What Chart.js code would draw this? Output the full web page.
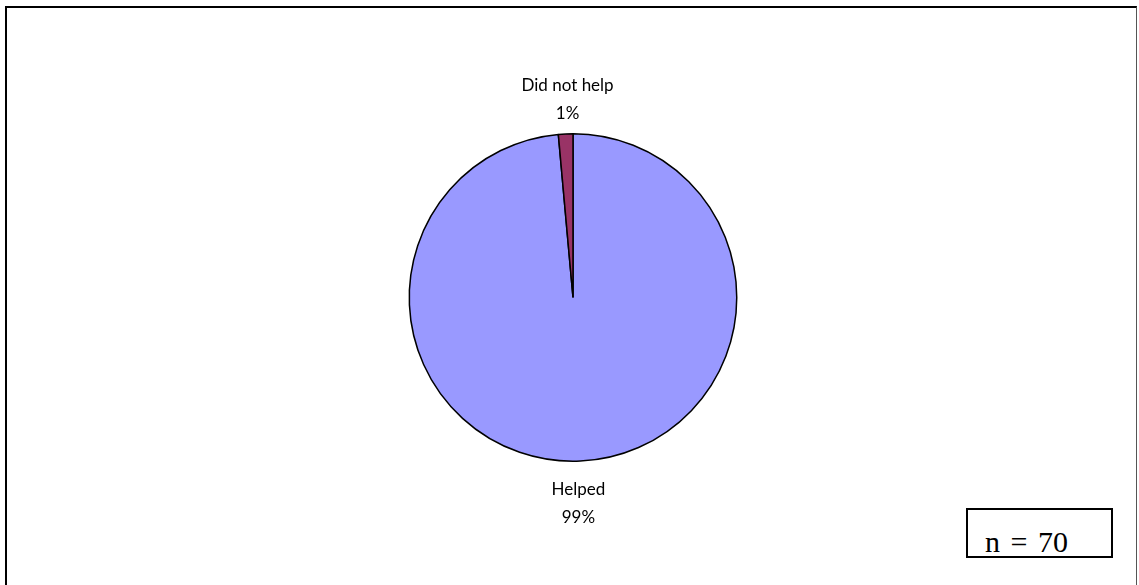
<!DOCTYPE html>
<html>
<head>
<meta charset="utf-8">
<script src="https://cdn.jsdelivr.net/npm/chart.js@4/dist/chart.umd.min.js"></script>
<style>
  html, body { margin: 0; padding: 0; background: #fff; }
  #wrap { position: relative; width: 1139px; height: 585px; overflow: hidden; }
  #frame {
    position: absolute; left: 5px; top: 6px; width: 1129px; height: 600px;
    border-left: 2px solid #000; border-top: 2px solid #000; border-right: 1px solid #555;
  }
  #nbox {
    position: absolute; left: 966px; top: 508px; width: 143px; height: 46px;
    border: 2px solid #000; background: #fff; overflow: hidden;
    font-family: "Liberation Serif", "DejaVu Serif", serif; font-size: 30px;
  }
  #nbox span { position: absolute; left: 17px; top: 15px; word-spacing: 3px; }
  canvas { position: absolute; left: 0; top: 0; }
</style>
</head>
<body>
<div id="wrap">
  <div id="frame"></div>
  <canvas id="pie" width="1139" height="585"></canvas>
  <div id="nbox"><span>n = 70</span></div>
</div>
<script>
const categories = ['Helped', 'Did not help'];
const counts = [69, 1];
const percentLabels = ['99%', '1%'];
const sliceColors = ['#9999FF', '#993366'];

// slice labels placed outside the pie along each slice's middle angle
const sliceLabels = {
  id: 'sliceLabels',
  afterDraw(chart) {
    const ctx = chart.ctx;
    const meta = chart.getDatasetMeta(0);
    ctx.save();
    ctx.font = '17px Lato, "Open Sans", sans-serif';
    ctx.fillStyle = '#000';
    ctx.textAlign = 'center';
    ctx.textBaseline = 'middle';
    meta.data.forEach((arc, i) => {
      const p = arc.getProps(['x', 'y', 'startAngle', 'endAngle', 'outerRadius'], true);
      const mid = (p.startAngle + p.endAngle) / 2;
      const dist = p.outerRadius + 38;
      const cx = p.x + Math.cos(mid) * dist * 0.6;
      const cy = p.y + Math.sin(mid) * dist + 4;
      ctx.fillText(categories[i], cx, cy - 14);
      ctx.fillText(percentLabels[i], cx, cy + 14);
    });
    ctx.restore();
  }
};

new Chart(document.getElementById('pie'), {
  type: 'pie',
  data: {
    labels: categories,
    datasets: [{
      data: counts,
      backgroundColor: sliceColors,
      borderColor: '#000',
      borderWidth: 1.5
    }]
  },
  options: {
    responsive: false,
    animation: false,
    layout: { padding: { left: 408, right: 401, top: 133, bottom: 123 } },
    plugins: {
      legend: { display: false },
      tooltip: { enabled: false }
    }
  },
  plugins: [sliceLabels]
});
</script>
</body>
</html>
